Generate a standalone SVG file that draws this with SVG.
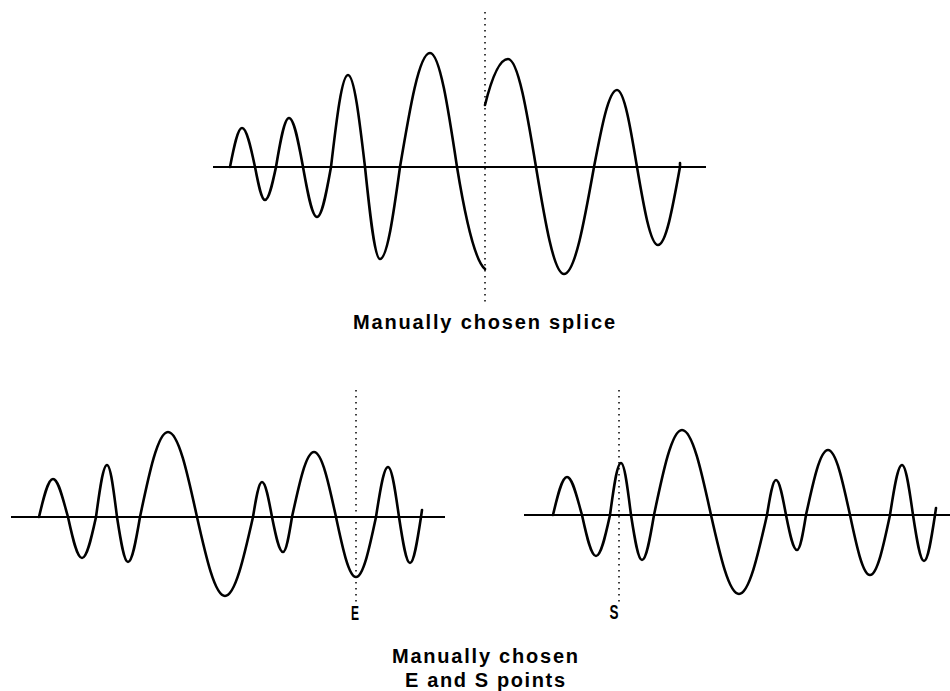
<svg xmlns="http://www.w3.org/2000/svg" xmlns:xlink="http://www.w3.org/1999/xlink" width="950" height="691" viewBox="0 0 950 691">
<style>
.axis{stroke:#000;stroke-width:2;fill:none}
.wave{stroke:#000;stroke-width:2.6;fill:none;stroke-linejoin:round;stroke-linecap:round}
.dots{stroke:#000;stroke-width:1.5;stroke-dasharray:1.5 4.5;fill:none}
.lbl{font-family:"Liberation Sans",Arial,sans-serif;font-weight:bold;font-size:20px;fill:#000;text-anchor:middle}
</style>
<defs>
<path id="ewave" class="wave" d="M39,517
C43.6,497.5 47.9,479 53,479 C58.4,479 62.4,497.5 68,517
C72.6,538 76.9,558 82,558 C87.1,558 91.4,538 96,517
C99.6,490.4 103,465 107,465 C110.6,465 113.7,490.4 117,517
C120.6,540 124,562 128,562 C132.3,562 136.1,540 140,517
C149.1,473.5 157.9,432 168,432 C178.5,432 187.5,473.5 197,517
C206.1,557.4 214.9,596 225,596 C235.1,596 243.9,557.4 253,517
C255.9,499.1 258.7,482 262,482 C265.6,482 268.7,499.1 272,517
C275.6,534.9 279,552 283,552 C286.3,552 289.1,534.9 292,517
C299.2,483.7 306,452 314,452 C322,452 328.8,483.7 336,517
C342.5,547.7 348.8,577 356,577 C363.2,577 369.5,547.7 376,517
C379.9,491.4 383.7,467 388,467 C392,467 395.4,491.4 399,517
C402.6,540.6 406,563 410,563 C414,563 417.4,540.6 421,517 L422,510"/>
</defs>
<g id="top-panel">
<line class="dots" x1="485" y1="12" x2="485" y2="304"/>
<line class="axis" x1="213" y1="167" x2="706" y2="167"/>
<path class="wave" d="M230,167
C233.9,147 237.7,128 242,128 C246.7,128 250.8,147 255,167
C258.3,183.9 261.4,200 265,200 C269,200 272.4,183.9 276,167
C280.2,141.9 284.3,118 289,118 C294.1,118 298.4,141.9 303,167
C307.6,192.6 311.9,217 317,217 C322.1,217 326.4,192.6 331,167
C336.5,119.9 341.8,75 348,75 C354.2,75 359.5,119.9 365,167
C369.9,214.1 374.6,259 380,259 C387.2,259 393.5,214.1 400,167
C409.8,108.6 419.1,53 430,53 C439.8,53 448.2,108.6 457,167
C466,222 476,262 485,269"/>
<path class="wave" d="M485,105 C490,85 498,59 508,59
C518.1,59 526.9,111.7 536,167
C545.1,221.8 553.9,274 564,274 C574.9,274 584.2,221.8 594,167
C601.5,127.6 608.7,90 617,90 C624.2,90 630.5,127.6 637,167
C643.8,206.9 650.4,245 658,245 C666,245 672.8,206.9 680,167 L680,163"/>
<text class="lbl" x="484" y="329" textLength="262" lengthAdjust="spacing">Manually chosen splice</text>
</g>
<g id="bottom-left">
<line class="dots" x1="356" y1="390" x2="356" y2="603"/>
<line class="axis" x1="11" y1="517" x2="445" y2="517"/>
<use xlink:href="#ewave" href="#ewave"/>
<text class="lbl" x="355" y="620" textLength="8" lengthAdjust="spacingAndGlyphs">E</text>
</g>
<g id="bottom-right">
<line class="dots" x1="619" y1="390" x2="619" y2="603"/>
<line class="axis" x1="524" y1="515" x2="950" y2="515"/>
<use xlink:href="#ewave" href="#ewave" transform="translate(514,-2)"/>
<text class="lbl" x="614" y="619" textLength="9" lengthAdjust="spacingAndGlyphs">S</text>
</g>
<g id="caption">
<text class="lbl" x="485" y="663" textLength="186" lengthAdjust="spacing">Manually chosen</text>
<text class="lbl" x="485" y="687" textLength="160" lengthAdjust="spacing">E and S points</text>
</g>
</svg>
